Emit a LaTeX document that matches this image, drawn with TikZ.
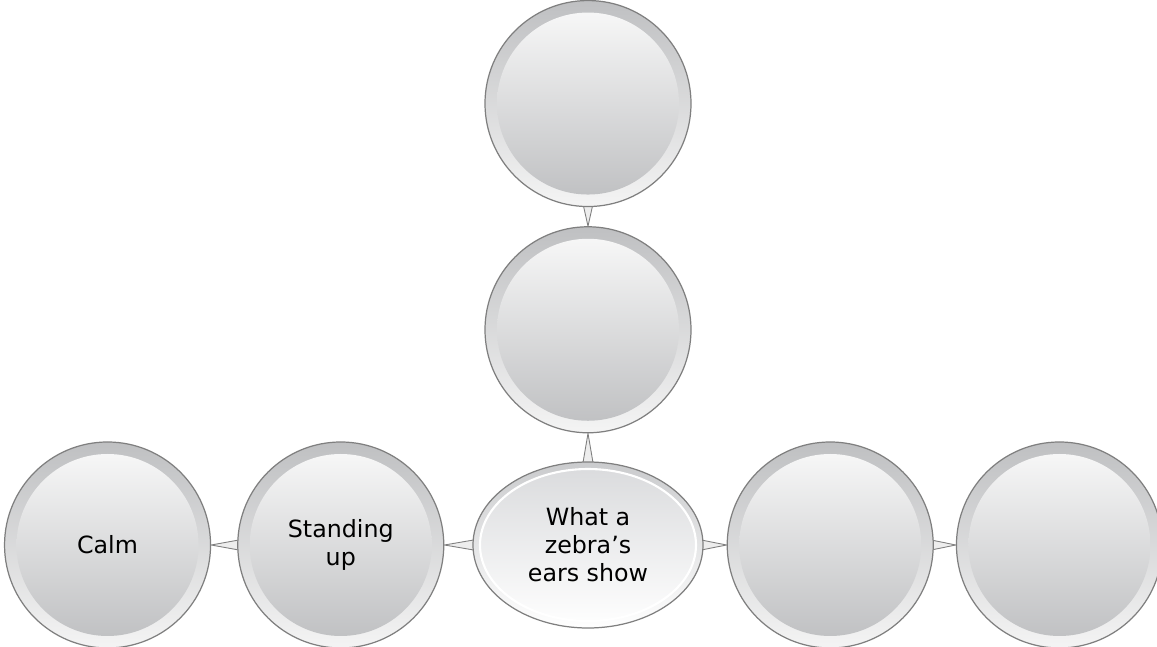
\documentclass[tikz,border=0pt]{standalone}
\usepackage{fontspec}
\setmainfont{DejaVu Sans}
\usepackage{tikz}
\usetikzlibrary{shapes,positioning,calc}
\definecolor{rim}{HTML}{7F7F7F}
\definecolor{ringtop}{HTML}{BFC0C2}
\definecolor{ringbot}{HTML}{F4F4F4}
\definecolor{disctop}{HTML}{FAFAFA}
\definecolor{discbot}{HTML}{BDBEC0}
\definecolor{hubrim}{HTML}{CACBCD}
\definecolor{hubtop}{HTML}{D9DADC}
\definecolor{wedgefill}{HTML}{EDEDED}
\pgfdeclarelayer{bg}
\pgfsetlayers{bg,main}
\tikzset{
	bubble/.style={
		circle,
		draw=rim,
		line width=0.7pt,
		minimum size=4.12cm,
		inner sep=0pt,
		top color=ringtop,
		bottom color=ringbot,
		align=center,
		font=\fontsize{13.5}{16}\selectfont,
		path picture={\shade[top color=disctop,bottom color=discbot] (path picture bounding box.center) circle (1.82cm);},
	},
	hub/.style={
		ellipse,
		draw=rim,
		line width=0.7pt,
		minimum width=4.6cm,
		minimum height=3.32cm,
		inner sep=0pt,
		top color=hubrim,
		bottom color=white,
		align=center,
		font=\fontsize{13.5}{16}\selectfont,
		path picture={\shadedraw[draw=white,line width=1.2pt,top color=hubtop,bottom color=white] (path picture bounding box.center) ellipse [x radius=2.16cm,y radius=1.52cm];},
	},
	wedge/.style={
		fill=wedgefill,
		draw=rim,
		line width=0.5pt,
		line join=miter,
	},
}

\begin{document}
\begin{tikzpicture}
		\useasboundingbox (0,0) rectangle (23.14,-12.94);
		\node [hub] (hub) at (11.76,-10.9) {What a\\zebra’s\\ears show};
		\node [bubble] (stand) [left=0.56cm of hub] {Standing\\up};
		\node [bubble] (calm) [left=0.52cm of stand] {Calm};
		\node [bubble] (rone) [right=0.46cm of hub] {};
		\node [bubble] (rtwo) [right=0.44cm of rone] {};
		\node [bubble] (mid) [above=0.56cm of hub] {};
		\node [bubble] (top) [above=0.38cm of mid] {};
		
		\begin{pgfonlayer}{bg}
			\draw [wedge] ($(stand.west)+(0.2,0.13)$) -- (calm.east) -- ($(stand.west)+(0.2,-0.13)$) -- cycle;
			\draw [wedge] ($(hub.west)+(0.2,0.13)$) -- (stand.east) -- ($(hub.west)+(0.2,-0.13)$) -- cycle;
			\draw [wedge] ($(hub.east)+(-0.2,0.13)$) -- (rone.west) -- ($(hub.east)+(-0.2,-0.13)$) -- cycle;
			\draw [wedge] ($(rone.east)+(-0.2,0.13)$) -- (rtwo.west) -- ($(rone.east)+(-0.2,-0.13)$) -- cycle;
			\draw [wedge] ($(hub.north)+(-0.13,-0.2)$) -- (mid.south) -- ($(hub.north)+(0.13,-0.2)$) -- cycle;
			\draw [wedge] ($(top.south)+(-0.13,0.2)$) -- (mid.north) -- ($(top.south)+(0.13,0.2)$) -- cycle;
		\end{pgfonlayer}
	\end{tikzpicture}
\end{document}
